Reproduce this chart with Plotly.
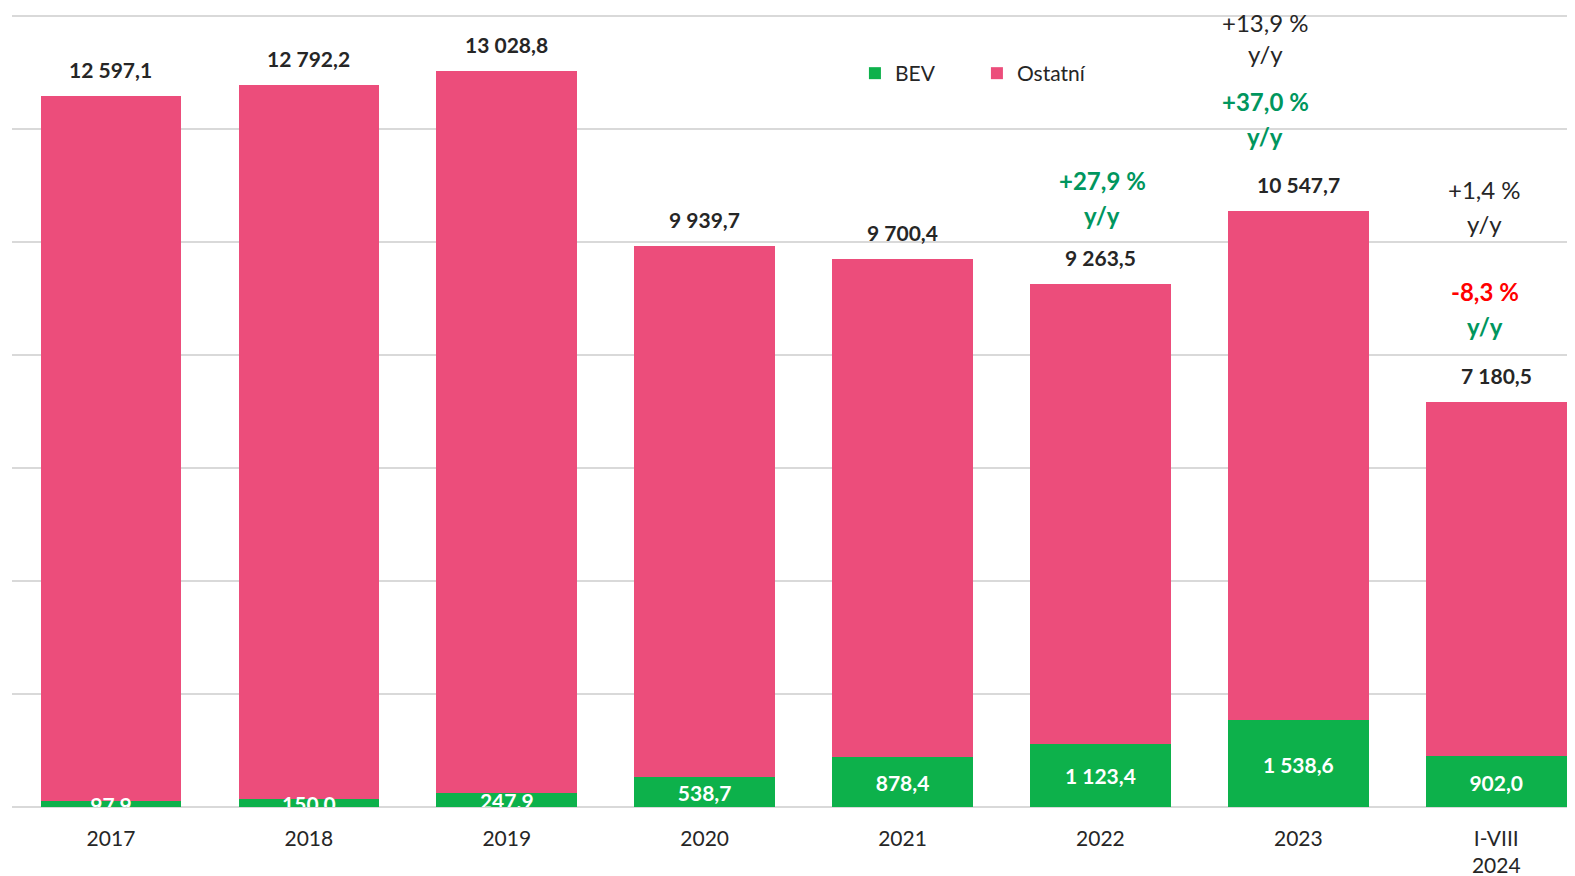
import plotly.graph_objects as go

categories = ["2017", "2018", "2019", "2020", "2021", "2022", "2023", "I-VIII<br>2024"]
totals = [12597.1, 12792.2, 13028.8, 9939.7, 9700.4, 9263.5, 10547.7, 7180.5]
bev = [97.9, 150.0, 247.9, 538.7, 878.4, 1123.4, 1538.6, 902.0]
ostatni = [t - b for t, b in zip(totals, bev)]

def fmt(v):
    s = f"{v:,.1f}".replace(",", " ").replace(".", ",")
    return s

GREEN = "#0DB14B"
PINK = "#EC4D7B"
TXT_GREEN = "#00965E"
RED = "#FF0000"
DARK = "#262626"
FONT = "Lato, Carlito, Calibri, sans-serif"
LABEL_DROP = 70  # small downward nudge of inside labels (data units)

x = list(range(len(categories)))

fig = go.Figure()
fig.add_trace(go.Bar(x=x, y=bev, name="BEV", marker=dict(color=GREEN, line=dict(width=0)), width=0.7105))
fig.add_trace(go.Bar(x=x, y=ostatni, name="Ostatní", marker=dict(color=PINK, line=dict(width=0)), width=0.7105))

# BEV labels (clipped by plot area)
fig.add_trace(go.Scatter(
    x=x, y=[b / 2 - LABEL_DROP for b in bev], mode="text", text=[fmt(b) for b in bev],
    textfont=dict(color="white", size=21, family=FONT, weight="bold"),
    showlegend=False, cliponaxis=True, hoverinfo="skip"))

annotations = []
for i, t in enumerate(totals):
    annotations.append(dict(x=i, y=t, xref="x", yref="y", text="<b>" + fmt(t) + "</b>",
                            showarrow=False, yanchor="bottom", yshift=12,
                            font=dict(size=21, color=DARK, family=FONT)))

# y/y annotations: (category index, text, y value, color, bold)
yy_notes = [
    (5, "+27,9 %", 11100, TXT_GREEN, True),
    (5, "y/y", 10478, TXT_GREEN, True),
    (6, "+13,9 %", 13900, DARK, False),
    (6, "y/y", 13343, DARK, False),
    (6, "+37,0 %", 12488, TXT_GREEN, True),
    (6, "y/y", 11866, TXT_GREEN, True),
    (7, "+1,4 %", 10940, DARK, False),
    (7, "y/y", 10336, DARK, False),
    (7, "-8,3 %", 9126, RED, True),
    (7, "y/y", 8504, TXT_GREEN, True),
]
x_shift = {5: 0.01, 6: -0.168, 7: -0.057}
for ci, txt, yv, col, bold in yy_notes:
    annotations.append(dict(x=ci + x_shift[ci], y=yv, xref="x", yref="y",
                            text=("<b>" + txt + "</b>") if bold else txt,
                            showarrow=False, yanchor="middle",
                            font=dict(size=24, color=col, family=FONT)))

fig.update_layout(
    width=1567, height=876,
    barmode="stack",
    paper_bgcolor="white", plot_bgcolor="white",
    margin=dict(l=4, r=0, t=0, b=77, autoexpand=False),
    font=dict(family=FONT, size=21, color=DARK),
    annotations=annotations,
    legend=dict(orientation="h", x=0.5393, y=0.918, xanchor="left", yanchor="middle",
                font=dict(size=21, color=DARK, family=FONT), itemwidth=30,
                bgcolor="rgba(0,0,0,0)", traceorder="normal", entrywidth=77),
    xaxis=dict(tickmode="array", tickvals=x, ticktext=categories, range=[-0.5, 7.398],
               showgrid=False, zeroline=False, showline=False, ticks="", automargin=False,
               tickfont=dict(size=21, color=DARK, family=FONT), ticklabelstandoff=17),
    yaxis=dict(range=[0, 14150], tickmode="array", tickvals=[2000, 4000, 6000, 8000, 10000, 12000, 14000],
               showgrid=True, gridcolor="#D9D9D9", gridwidth=2, automargin=False,
               showticklabels=False, zeroline=True, zerolinecolor="#D9D9D9", zerolinewidth=2,
               ticks=""),
)

fig.write_html("out.html")
